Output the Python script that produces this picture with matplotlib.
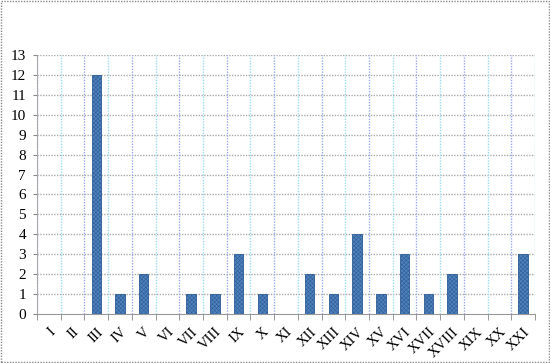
import matplotlib

matplotlib.use("Agg")
import matplotlib.pyplot as plt
import numpy as np

categories = ["I", "II", "III", "IV", "V", "VI", "VII", "VIII", "IX", "X", "XI",
              "XII", "XIII", "XIV", "XV", "XVI", "XVII", "XVIII", "XIX", "XX", "XXI"]
counts = [0, 0, 12, 1, 2, 0, 1, 1, 3, 1, 0, 2, 1, 4, 1, 3, 1, 2, 0, 0, 3]

plt.rcParams["font.family"] = ["Liberation Serif", "DejaVu Serif"]
plt.rcParams["hatch.linewidth"] = 0.4
plt.rcParams["hatch.color"] = "#2f5d95"

fig = plt.figure(figsize=(5.5, 3.63), dpi=100)
ax = fig.add_axes([37 / 550, 1 - 314 / 363, (535 - 37) / 550, (314 - 55) / 363])

x = np.arange(len(categories))
ax.bar(x, counts, width=0.4, color="#4f81bd", edgecolor="#2f5d95",
       hatch="xxxxxxxx", linewidth=0.6, zorder=3)

ax.set_xlim(-0.5, len(categories) - 0.5)
ax.set_ylim(0, 13)
ax.set_yticks(range(0, 14))
ax.tick_params(axis="y", labelsize=11, length=3, color="#888888", pad=5)

# gridlines
for yv in range(1, 14):
    ax.axhline(yv, color="#aaaaaa", linestyle=(0, (1, 1)), linewidth=1.0, zorder=1)
for i in range(len(categories) + 1):
    col = "#99aaee" if i % 2 == 0 else "#99ddee"
    ax.axvline(i - 0.5, color=col, linestyle=(0, (1, 1)), linewidth=1.0, zorder=1)

ax.set_xticks(np.arange(len(categories) + 1) - 0.5, minor=True)
ax.set_xticks(x)
ax.set_xticklabels(categories, rotation=45, ha="right", rotation_mode="anchor", fontsize=10.5)
ax.tick_params(axis="x", which="major", length=0, pad=8)
ax.tick_params(axis="x", which="minor", length=4, color="#888888")

for side in ["top", "right"]:
    ax.spines[side].set_visible(False)
ax.spines["left"].set_color("#aaaaaa")
ax.spines["left"].set_linestyle((0, (1, 1)))
ax.spines["bottom"].set_color("#999999")
ax.spines["bottom"].set_linestyle((0, (1, 1)))

# outer dotted border
fig.patches.append(plt.Rectangle((0.002, 0.002), 0.996, 0.996, transform=fig.transFigure,
                                 fill=False, edgecolor="#888888", linestyle=(0, (1, 1)),
                                 linewidth=1.0))

fig.savefig("out.png", dpi=100)
